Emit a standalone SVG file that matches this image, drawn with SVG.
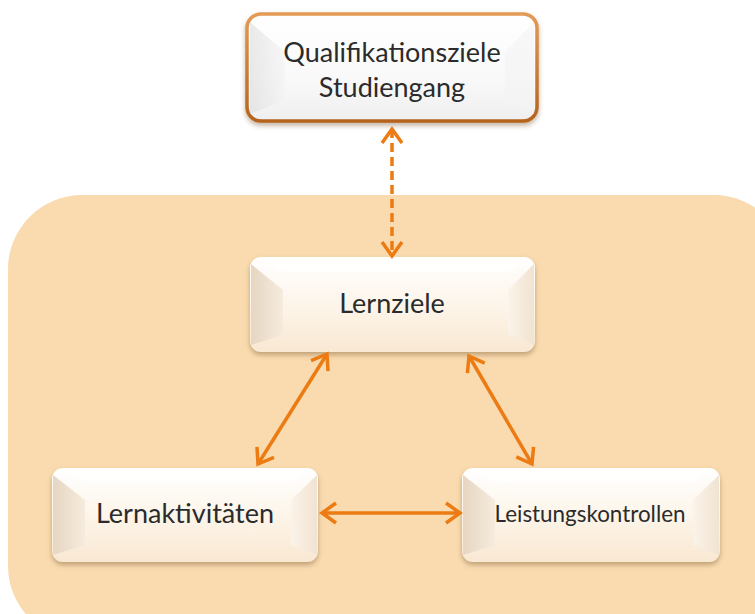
<svg xmlns="http://www.w3.org/2000/svg" width="755" height="614" viewBox="0 0 755 614">
<defs>
<style>
.lbl{font-family:"Lato","Open Sans","Liberation Sans",sans-serif;fill:#2B2B2B;text-anchor:middle}
.arr{stroke:#EB7B12;stroke-width:3.5;fill:none;marker-start:url(#chev);marker-end:url(#chev)}
.face{fill:url(#faceG)}
.bl{fill:url(#bevL)}
.br{fill:url(#bevR)}
.bt{fill:#FFFFFF;opacity:0.7}
</style>
<linearGradient id="faceG" x1="0" y1="0" x2="0" y2="1">
<stop offset="0" stop-color="#FFFFFF"/>
<stop offset="0.5" stop-color="#FDF5EA"/>
<stop offset="1" stop-color="#F9E8D2"/>
</linearGradient>
<linearGradient id="bevL" x1="0" y1="0" x2="1" y2="0">
<stop offset="0" stop-color="#E6D6C2"/>
<stop offset="1" stop-color="#F6EBDD"/>
</linearGradient>
<linearGradient id="bevR" x1="0" y1="0" x2="1" y2="0">
<stop offset="0" stop-color="#FBF3E9"/>
<stop offset="1" stop-color="#F1E3D1"/>
</linearGradient>
<linearGradient id="topFace" x1="0" y1="0" x2="0" y2="1">
<stop offset="0" stop-color="#FFFFFF"/>
<stop offset="0.6" stop-color="#F9F9F9"/>
<stop offset="1" stop-color="#EFEFEF"/>
</linearGradient>
<linearGradient id="topBorder" x1="0" y1="0" x2="0" y2="1">
<stop offset="0" stop-color="#E49A55"/>
<stop offset="1" stop-color="#B5641C"/>
</linearGradient>
<linearGradient id="topBevL" x1="0" y1="0" x2="1" y2="0">
<stop offset="0" stop-color="#DCDCDC"/>
<stop offset="1" stop-color="#F3F3F3"/>
</linearGradient>
<filter id="sh" x="-10%" y="-10%" width="120%" height="130%">
<feDropShadow dx="0" dy="3" stdDeviation="2.5" flood-color="#7A5A30" flood-opacity="0.45"/>
</filter>
<marker id="chev" markerUnits="userSpaceOnUse" viewBox="-18 -12 22 24" markerWidth="22" markerHeight="24" refX="0" refY="0" orient="auto-start-reverse">
<path d="M-14,-10 L0,0 L-14,10" fill="none" stroke="#EB7B12" stroke-width="3.5" stroke-linecap="butt" stroke-linejoin="miter"/>
</marker>
</defs>

<rect id="panel" x="8" y="195" width="780" height="445" rx="74" fill="#F9DBAF"/>

<g id="node-qualifikationsziele">
<rect x="247" y="14" width="290" height="107" rx="14" fill="url(#topFace)" stroke="url(#topBorder)" stroke-width="3.5" filter="url(#sh)"/>
<polygon points="250,22 285,52 285,100 250,114" fill="url(#topBevL)" opacity="0.6"/>
<polygon points="534,22 505,52 505,100 534,114" fill="#F4F4F4" opacity="0.6"/>
<text class="lbl" x="392" y="62" font-size="27">Qualifikationsziele</text>
<text class="lbl" x="392" y="97" font-size="27">Studiengang</text>
</g>

<g id="node-lernziele">
<rect class="face" x="250" y="257" width="285" height="95" rx="11" filter="url(#sh)"/>
<polygon class="bl" points="251,264 283,290 283,335 251,345"/>
<polygon class="br" points="534,264 508,290 508,335 534,345"/>
<polygon class="bt" points="258,258 527,258 508,272 283,272"/>
<text class="lbl" x="392" y="313" font-size="27">Lernziele</text>
</g>

<g id="node-lernaktivitaeten">
<rect class="face" x="52" y="468" width="266" height="94" rx="11" filter="url(#sh)"/>
<polygon class="bl" points="53,475 85,500 85,545 53,555"/>
<polygon class="br" points="317,475 291,500 291,545 317,555"/>
<polygon class="bt" points="60,469 310,469 291,483 85,483"/>
<text class="lbl" x="185" y="523" font-size="27">Lernaktivitäten</text>
</g>

<g id="node-leistungskontrollen">
<rect class="face" x="462" y="468" width="258" height="94" rx="11" filter="url(#sh)"/>
<polygon class="bl" points="463,475 495,500 495,545 463,555"/>
<polygon class="br" points="719,475 693,500 693,545 719,555"/>
<polygon class="bt" points="470,469 712,469 693,483 495,483"/>
<text class="lbl" x="590" y="522" font-size="22.4">Leistungskontrollen</text>
</g>

<g id="connectors">
<line class="arr" x1="392" y1="129" x2="392" y2="256" stroke-dasharray="9 5"/>
<line class="arr" x1="327" y1="354" x2="258" y2="464"/>
<line class="arr" x1="469" y1="356" x2="532" y2="464"/>
<line class="arr" x1="322" y1="513" x2="460" y2="513"/>
</g>
</svg>
